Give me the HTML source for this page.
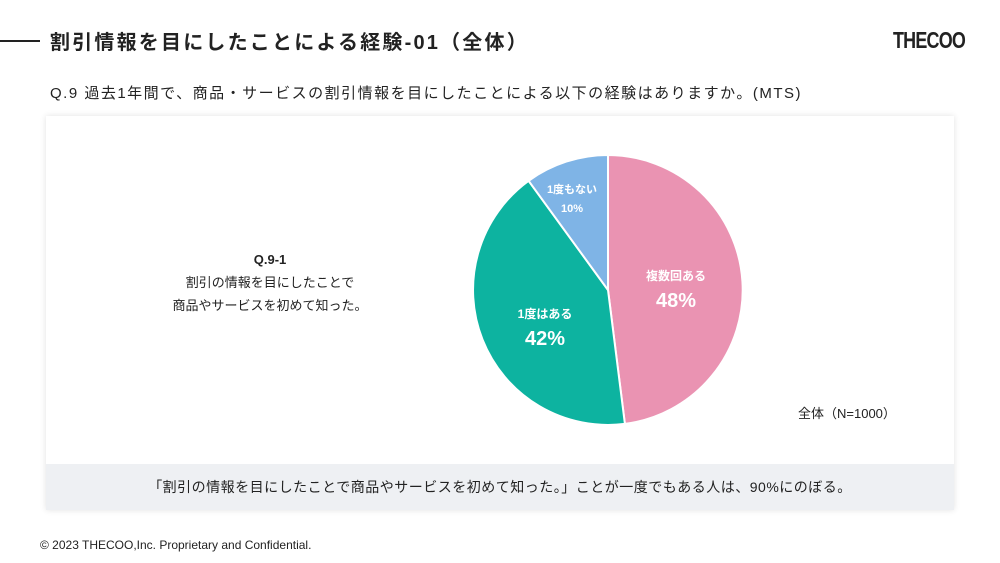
<!DOCTYPE html>
<html><head><meta charset="utf-8"><style>
body{margin:0;width:1000px;height:563px;background:#fff;font-family:"Liberation Sans","Noto Sans CJK JP",sans-serif;position:relative;overflow:hidden;color:#222}
.a{position:absolute;white-space:nowrap}
</style></head><body>
<div class="a" style="left:0;top:40px;width:40px;height:2px;background:#222"></div>
<div class="a" style="left:50px;top:26px;font-size:20px;font-weight:bold;letter-spacing:2.2px">割引情報を目にしたことによる経験-01（全体）</div>
<div class="a" style="left:893px;top:27px;font-size:23px;font-weight:bold;letter-spacing:-1px;transform:scaleX(0.78);transform-origin:left">THECOO</div>
<div class="a" style="left:50px;top:82px;font-size:15px;letter-spacing:1.5px">Q.9 過去1年間で、商品・サービスの割引情報を目にしたことによる以下の経験はありますか。(MTS)</div>
<div class="a" style="left:46px;top:116px;width:908px;height:394px;background:#fff;box-shadow:0 0 6px rgba(0,0,0,0.12)"></div>
<div class="a" style="left:46px;top:464px;width:908px;height:46px;background:#eef0f3"></div>
<div class="a" style="left:46px;top:477px;width:908px;text-align:center;font-size:14px;letter-spacing:0.5px">「割引の情報を目にしたことで商品やサービスを初めて知った。」ことが一度でもある人は、90%にのぼる。</div>
<div class="a" style="left:150px;top:248px;width:240px;text-align:center;font-size:13px;line-height:23px"><b>Q.9-1</b><br>割引の情報を目にしたことで<br>商品やサービスを初めて知った。</div>
<svg class="a" style="left:0;top:0" width="1000" height="563">
<path d="M608,290 L608,155 A135,135 0 0 1 624.9,423.9 Z" fill="#ea93b2" stroke="#fff" stroke-width="2"/>
<path d="M608,290 L624.9,423.9 A135,135 0 0 1 528.6,180.8 Z" fill="#0db3a0" stroke="#fff" stroke-width="2"/>
<path d="M608,290 L528.6,180.8 A135,135 0 0 1 608,155 Z" fill="#7fb4e6" stroke="#fff" stroke-width="2"/>
<g fill="#fff" text-anchor="middle" font-family="Liberation Sans,Noto Sans CJK JP,sans-serif">
<text x="676" y="280" font-size="12" font-weight="bold">複数回ある</text>
<text x="676" y="307" font-size="20" font-weight="bold">48%</text>
<text x="545" y="318" font-size="12" font-weight="bold">1度はある</text>
<text x="545" y="345" font-size="20" font-weight="bold">42%</text>
<text x="572" y="193" font-size="11" font-weight="bold">1度もない</text>
<text x="572" y="212" font-size="11" font-weight="bold">10%</text>
</g>
</svg>
<div class="a" style="left:798px;top:403px;font-size:13px">全体（N=1000）</div>
<div class="a" style="left:40px;top:538px;font-size:12px">© 2023 THECOO,Inc. Proprietary and Confidential.</div>
</body></html>
